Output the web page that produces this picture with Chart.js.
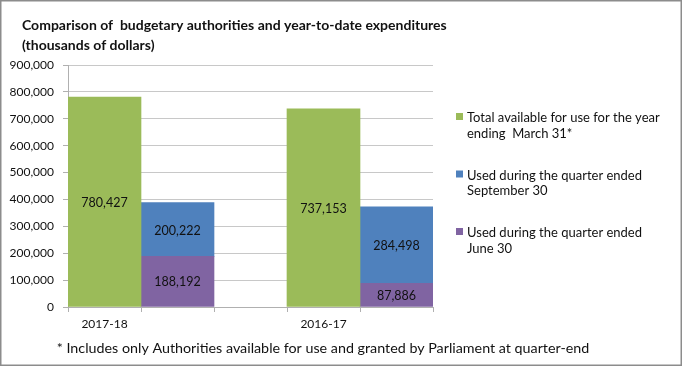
<!DOCTYPE html>
<html><head><meta charset="utf-8">
<script src="https://cdn.jsdelivr.net/npm/chart.js@4.4.1/dist/chart.umd.min.js"></script>
<style>html,body{margin:0;padding:0;background:#fff}#wrap{position:relative;width:682px;height:366px}</style>
</head><body><div id="wrap"><canvas id="c" width="682" height="366"></canvas></div>
<script>
const categories = ['2017-18', '', '', '2016-17', ''];
const totalAvailable = [780427, null, null, 737153, null];
const usedJune = [null, 188192, null, null, 87886];
const usedSeptember = [null, 200222, null, null, 284498];
const seriesNames = ['Total available for use for the year|ending  March 31*', 'Used during the quarter ended|June 30', 'Used during the quarter ended|September 30'];
const yTicks = [0, 100000, 200000, 300000, 400000, 500000, 600000, 700000, 800000, 900000];
const titleLines = ['Comparison of  budgetary authorities and year-to-date expenditures', '(thousands of dollars)'];
const footnote = '* Includes only Authorities available for use and granted by Parliament at quarter-end';

const FONT = 'Lato, "Open Sans", sans-serif';
const fmt = v => Number(v).toLocaleString('en-US');

const dataLabels = {
  id: 'dataLabels',
  afterDatasetsDraw(chart) {
    const ctx = chart.ctx;
    ctx.save();
    ctx.font = '12.5px ' + FONT;
    ctx.fillStyle = '#111';
    ctx.textAlign = 'center';
    ctx.textBaseline = 'middle';
    chart.data.datasets.forEach((ds, i) => {
      const meta = chart.getDatasetMeta(i);
      meta.data.forEach((el, j) => {
        const v = ds.data[j];
        if (v == null) return;
        ctx.fillText(fmt(v), el.x, (el.y + el.base) / 2 + 1);
      });
    });
    ctx.restore();
  }
};

const extras = {
  id: 'extras',
  afterDraw(chart) {
    const ctx = chart.ctx;
    ctx.save();
    const order = [0, 2, 1];
    const lx = 456, ly0 = 117, step = 57.5;
    ctx.font = '13px ' + FONT;
    ctx.textBaseline = 'middle';
    ctx.textAlign = 'left';
    order.forEach((di, k) => {
      const ds = chart.data.datasets[di];
      const y = ly0 + k * step;
      ctx.fillStyle = ds.backgroundColor;
      ctx.fillRect(lx, y - 4, 7, 7);
      ctx.fillStyle = '#111';
      ds.label.split('|').forEach((line, n) => ctx.fillText(line, lx + 11, y + 1 + n * 15.5));
    });
    ctx.font = 'bold 14px ' + FONT;
    titleLines.forEach((t, n) => ctx.fillText(t, 22, 25 + n * 20));
    ctx.font = '14.3px ' + FONT;
    ctx.textAlign = 'center';
    ctx.fillText(footnote, 323, 348);
    ctx.strokeStyle = '#8c8c8c';
    ctx.lineWidth = 1.5;
    ctx.strokeRect(0.75, 0.75, 680.5, 364.5);
    ctx.restore();
  }
};

new Chart(document.getElementById('c'), {
  type: 'bar',
  data: {
    labels: categories,
    datasets: [
      { label: seriesNames[0], data: totalAvailable, backgroundColor: '#9BBB59' },
      { label: seriesNames[1], data: usedJune, backgroundColor: '#8064A2' },
      { label: seriesNames[2], data: usedSeptember, backgroundColor: '#4F81BD' }
    ]
  },
  options: {
    responsive: false,
    animation: false,
    barPercentage: 1,
    categoryPercentage: 1,
    layout: { padding: { left: 8, top: 65, right: 249, bottom: 0 } },
    plugins: { legend: { display: false }, title: { display: false }, tooltip: { enabled: false } },
    scales: {
      x: {
        stacked: true,
        grid: { display: true, drawOnChartArea: false, offset: true, tickLength: 5, color: '#b0b0b0' },
        border: { display: true, color: '#b0b0b0' },
        ticks: { autoSkip: false, maxRotation: 0, padding: 5, color: '#111', font: { family: FONT, size: 12 } },
        afterFit(s) { s.height = 59; }
      },
      y: {
        stacked: true,
        min: 0, max: 900000,
        afterBuildTicks(s) { s.ticks = yTicks.map(v => ({ value: v })); },
        grid: { color: '#c8c8c8', tickLength: 5, tickColor: '#b0b0b0' },
        border: { display: true, color: '#b0b0b0' },
        ticks: { padding: 9, color: '#111', font: { family: FONT, size: 12 }, callback: v => fmt(v) },
        afterFit(s) { s.width = 60; }
      }
    }
  },
  plugins: [dataLabels, extras]
});
</script></body></html>
